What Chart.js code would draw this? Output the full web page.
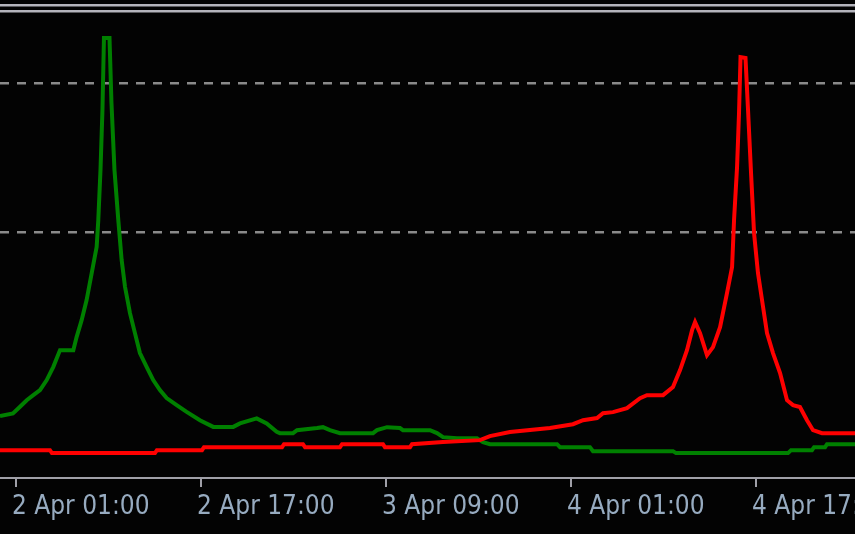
<!DOCTYPE html>
<html>
<head>
<meta charset="utf-8">
<script src="https://cdn.jsdelivr.net/npm/chart.js@4"></script>
<style>
  html, body { margin: 0; padding: 0; background: #030303; }
  #wrap { width: 855px; height: 534px; position: relative; }
</style>
</head>
<body>
<div id="wrap"><canvas id="lineChart"></canvas></div>
<script>
// hours counted from 2 Apr 00:00
const tickHours = [1, 17, 33, 49, 65];
const tickLabels = ['2 Apr 01:00', '2 Apr 17:00', '3 Apr 09:00', '4 Apr 01:00', '4 Apr 17:00'];
const levels = [10, 20];

const greenHours = [-0.38, 0.74, 1.35, 1.93, 2.50, 3.08, 3.66, 4.23, 4.81, 5.96, 6.25, 6.68, 7.11, 7.55, 7.98,
  8.12, 8.31, 8.48, 8.61, 9.09, 9.26, 9.52, 9.85, 10.14, 10.43, 10.86, 11.29, 11.72, 12.30, 12.87, 13.45,
  14.03, 14.90, 15.76, 16.91, 18.06, 19.79, 20.37, 21.82, 22.68, 23.55, 23.83, 24.96, 25.31, 27.04, 27.55,
  28.15, 29.02, 31.88, 32.22, 33.09, 34.21, 34.47, 36.81, 37.41, 37.93, 39.14, 40.87, 41.39, 41.99, 47.79,
  48.05, 50.64, 50.90, 57.82, 58.08, 67.77, 68.03, 69.84, 70.02, 70.97, 71.14, 73.56];
const greenValues = [-2.35, -2.17, -1.72, -1.28, -0.94, -0.60, 0.07, 0.96, 2.08, 2.08, 2.97, 4.09, 5.44, 7.25, 9.01,
  10.81, 14.16, 18.19, 23.02, 23.02, 18.66, 14.16, 10.81, 8.12, 6.33, 4.56, 3.22, 1.88, 0.96, 0.07, -0.60,
  -1.14, -1.61, -2.06, -2.62, -3.07, -3.07, -2.84, -2.50, -2.84, -3.40, -3.49, -3.49, -3.29, -3.15, -3.09,
  -3.29, -3.49, -3.49, -3.29, -3.09, -3.15, -3.29, -3.29, -3.49, -3.76, -3.83, -3.83, -4.09, -4.23, -4.23,
  -4.43, -4.43, -4.70, -4.70, -4.83, -4.83, -4.63, -4.63, -4.43, -4.43, -4.23, -4.23];

const redHours = [-0.38, 3.94, 4.11, 13.02, 13.19, 17.09, 17.26, 24.01, 24.18, 25.82, 26.00, 29.02, 29.20,
  32.74, 32.91, 35.08, 35.25, 37.93, 41.13, 41.99, 43.72, 47.18, 49.17, 50.04, 51.25, 51.77, 52.63, 53.84,
  54.97, 55.57, 56.96, 57.82, 58.43, 59.03, 59.47, 59.73, 60.16, 60.76, 61.28, 61.89, 62.49, 62.93, 63.10,
  63.36, 63.53, 63.66, 64.09, 64.31, 64.57, 64.83, 65.17, 65.61, 65.95, 66.47, 67.08, 67.68, 68.20, 68.80,
  69.41, 69.93, 70.71, 73.56];
const redValues = [-4.63, -4.63, -4.83, -4.83, -4.63, -4.63, -4.43, -4.43, -4.23, -4.23, -4.43, -4.43, -4.23,
  -4.23, -4.43, -4.43, -4.23, -4.09, -3.96, -3.69, -3.42, -3.15, -2.89, -2.62, -2.48, -2.15, -2.08, -1.81,
  -1.14, -0.94, -0.94, -0.40, 0.74, 2.08, 3.42, 3.96, 3.22, 1.74, 2.28, 3.62, 5.91, 7.65, 10.81,
  14.36, 17.99, 21.74, 21.68, 18.19, 13.96, 9.93, 7.25, 4.97, 3.22, 1.88, 0.54, -1.28, -1.61, -1.74,
  -2.62, -3.29, -3.49, -3.49];

const toPoints = (xs, ys) => xs.map((x, i) => ({ x: x, y: ys[i] }));

// the two light lines along the top edge
const topRule = {
  id: 'topRule',
  beforeDraw(chart) {
    const ctx = chart.ctx;
    ctx.save();
    ctx.fillStyle = '#030303';
    ctx.fillRect(0, 0, chart.width, chart.height);
    ctx.strokeStyle = '#b4b4bc';
    ctx.lineWidth = 2.5;
    [5.3, 11.2].forEach(y => {
      ctx.beginPath();
      ctx.moveTo(0, y);
      ctx.lineTo(chart.width, y);
      ctx.stroke();
    });
    ctx.restore();
  }
};

new Chart(document.getElementById('lineChart').getContext('2d'), {
  type: 'line',
  data: {
    datasets: [
      { data: toPoints(redHours, redValues), borderColor: '#ff0000', borderWidth: 4, pointRadius: 0, tension: 0 },
      { data: toPoints(greenHours, greenValues), borderColor: '#008000', borderWidth: 4, pointRadius: 0, tension: 0 }
    ]
  },
  options: {
    responsive: true,
    maintainAspectRatio: false,
    animation: false,
    layout: { padding: { top: 13, left: 0, right: 0, bottom: 0 } },
    plugins: { legend: { display: false }, tooltip: { enabled: false } },
    scales: {
      x: {
        type: 'linear',
        min: -0.38,
        max: 73.56,
        afterBuildTicks: s => { s.ticks = tickHours.map(v => ({ value: v })); },
        afterFit: s => { s.height = 56; s.paddingLeft = 0; s.paddingRight = 0; },
        ticks: {
          autoSkip: false,
          maxRotation: 0,
          align: 'start',
          labelOffset: -4,
          padding: 5,
          color: '#97abc0',
          font: { family: '"DejaVu Sans Condensed", "DejaVu Sans"', size: 26 },
          callback: (v, i) => tickLabels[i]
        },
        grid: { drawOnChartArea: false, drawTicks: true, tickLength: 9, color: '#a0a0a8', lineWidth: 2 },
        border: { display: true, color: '#a0a0a8', width: 2 }
      },
      y: {
        min: -6.5,
        max: 24.7,
        afterBuildTicks: s => { s.ticks = levels.map(v => ({ value: v })); },
        afterFit: s => { s.width = 0; },
        ticks: { display: false },
        grid: { color: '#8a8a8a', lineWidth: 2.5, drawTicks: false },
        border: { display: false, dash: [9, 8] }
      }
    }
  },
  plugins: [topRule]
});
</script>
</body>
</html>
